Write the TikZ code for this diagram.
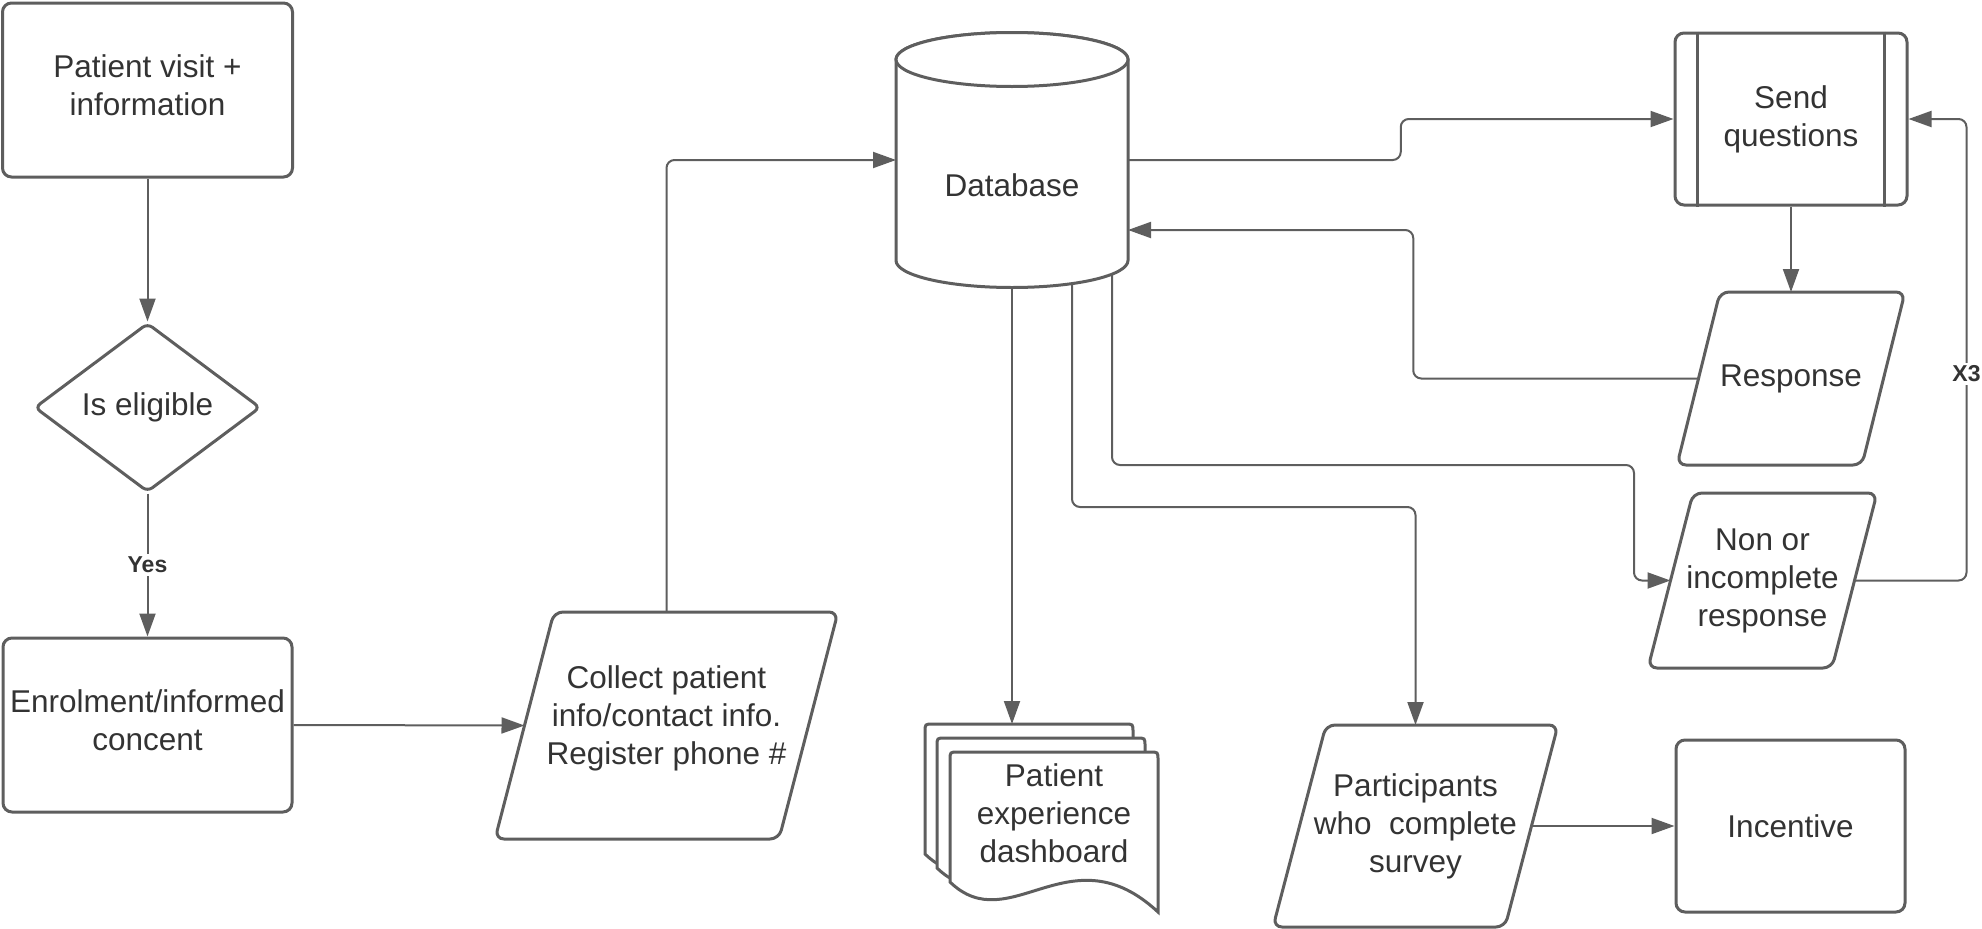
\documentclass[tikz,border=0pt]{standalone}
\usepackage{fontspec}
\setmainfont{Liberation Sans}
\usetikzlibrary{arrows.meta,shapes.geometric,calc}
\pgfdeclarelayer{conn}
\pgfdeclarelayer{shapes}
\pgfsetlayers{conn,shapes,main}
\definecolor{ln}{HTML}{5E5E5E}
\definecolor{tx}{HTML}{333333}
\newcommand\paradraw[2]{\begin{pgfonlayer}{shapes}\draw[shp] ([xshift=#2]#1.north west) -- (#1.north east) -- ([xshift=-#2]#1.south east) -- (#1.south west) -- cycle;\end{pgfonlayer}}
\tikzset{
  shp/.style={draw=ln, line width=3pt, fill=white, rounded corners=9pt},
  txt/.style={text=tx, font=\fontsize{31.5}{38}\selectfont, align=center, inner sep=0pt},
  rbox/.style={shp, txt, rectangle},
  ghost/.style={txt, draw=none, rectangle, outer sep=0pt},
  conn/.style={draw=ln, line width=2pt, rounded corners=8pt},
  arr/.style={conn, -{Triangle[length=23pt,width=16pt]}},
  lbl/.style={fill=white, text=tx, font=\bfseries\fontsize{23}{26}\selectfont, inner sep=3pt, rounded corners=0pt},
  doc/.pic={\draw[shp, rounded corners=0pt] (0,130) -- (0,8) .. controls (0,0) .. (8,0) -- (200,0) .. controls (208,0) .. (208,8) -- (208,160) .. controls (120,78) and (60,188) .. (0,130) -- cycle;}
}
\begin{document}
\begin{tikzpicture}[x=1pt,y=-1pt]
\useasboundingbox (0,0) rectangle (1982,929);
% nodes
\node[rbox, minimum width=290pt, minimum height=174pt] (visit) at (147.5,90) {Patient visit +\\information\\[-28pt]\mbox{}};
\node[shp, txt, diamond, rounded corners=6pt, minimum width=226pt, minimum height=169pt] (elig) at (147.5,407.5) {Is eligible};
\node[rbox, minimum width=289pt, minimum height=174pt] (enrol) at (147.5,725) {Enrolment/informed\\concent\\[-28pt]\mbox{}};
\node[ghost, minimum width=343pt, minimum height=227pt] (collect) at (666.5,725.5) {Collect patient\\info/contact info.\\Register phone \#\\[-18pt]\mbox{}};
\paradraw{collect}{59pt}
\node[ghost, minimum width=232pt, minimum height=255pt] (db) at (1012,160) {\raisebox{-36pt}[0pt][0pt]{Database}};
\begin{pgfonlayer}{shapes}
\draw[shp, rounded corners=0pt] ([yshift=-27pt]db.north west) -- ([yshift=27pt]db.south west) arc[start angle=180, end angle=360, x radius=116pt, y radius=27pt] -- ([yshift=-27pt]db.north east) arc[start angle=0, end angle=180, x radius=116pt, y radius=27pt] -- cycle;
\draw[shp, rounded corners=0pt] ([yshift=-27pt]db.north) ellipse[x radius=116pt, y radius=27pt];
\end{pgfonlayer}
\node[rbox, minimum width=232pt, minimum height=172pt] (send) at (1791,119) {Send\\questions};
\draw[draw=ln, line width=3pt] ([xshift=24pt]send.north west) -- ([xshift=24pt]send.south west);
\draw[draw=ln, line width=3pt] ([xshift=-24pt]send.north east) -- ([xshift=-24pt]send.south east);
\node[ghost, minimum width=228pt, minimum height=173pt] (resp) at (1791,378.5) {Response};
\paradraw{resp}{43pt}
\node[ghost, minimum width=229pt, minimum height=175pt] (non) at (1762.5,580.5) {Non or\\incomplete\\response};
\paradraw{non}{45pt}
\begin{pgfonlayer}{shapes}
\pic at (925,724) {doc};
\pic at (937,738) {doc};
\pic at (950,752) {doc};
\end{pgfonlayer}
\node[txt] (dash) at (1054,813) {Patient\\experience\\dashboard};
\coordinate (dashtop) at (1012,724);
\node[ghost, minimum width=285pt, minimum height=202pt] (part) at (1415.5,826) {Participants\\who~~complete\\survey};
\paradraw{part}{53pt}
\node[rbox, minimum width=229pt, minimum height=172pt] (inc) at (1790.5,826) {Incentive};
% connectors
\coordinate (collectW) at ([xshift=29.5pt]collect.west);
\coordinate (respW) at ([xshift=21.5pt]resp.west);
\coordinate (dbR) at ([yshift=-70pt]db.east);
\coordinate (nonW) at ([xshift=22.5pt]non.west);
\coordinate (nonE) at ([xshift=-22pt]non.east);
\coordinate (partE) at ([xshift=-26pt]part.east);
\begin{pgfonlayer}{conn}
\draw[arr] (visit.south) -- (elig.north);
\draw[arr] (elig.south) -- node[lbl]{Yes} (enrol.north);
\draw[arr] (enrol.east) -- (collectW);
\draw[arr] (collect.north) |- (db.west);
\draw[arr] (db.east) -| ($(db.east)!.5!(send.west)$) |- (send.west);
\draw[arr] (respW) -| ($(respW)!.5!(dbR)$) |- (dbR);
\draw[arr] ([xshift=100pt]db.center) |- ([xshift=-36.5pt,yshift=115.5pt]nonW) |- (nonW);
\draw[arr] ([xshift=60pt]db.center) |- ([yshift=218pt]part.north) -- (part.north);
\draw[arr] (db.center) -- (dashtop);
\draw[arr] (send.south) -- (resp.north);
\draw[arr] (nonE) -| node[lbl, pos=0.724]{X3} ([xshift=58pt]send.east) -- (send.east);
\draw[arr] (partE) -- (inc.west);
\end{pgfonlayer}
\end{tikzpicture}
\end{document}
